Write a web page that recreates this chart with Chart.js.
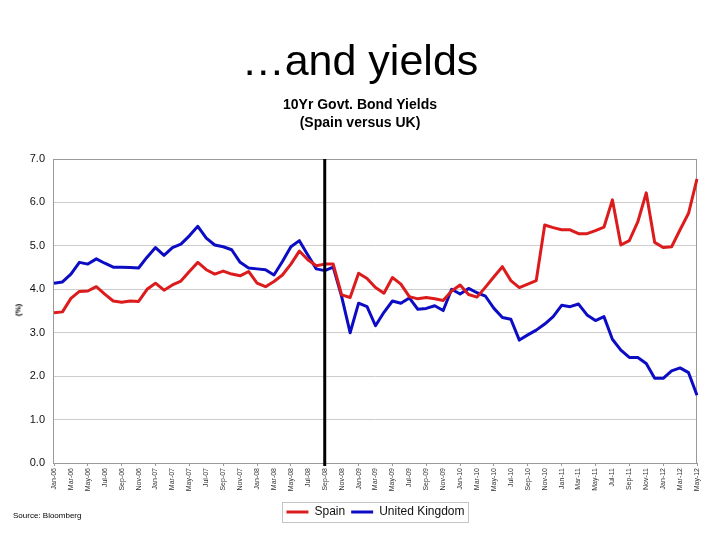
<!DOCTYPE html>
<html>
<head>
<meta charset="utf-8">
<script src="https://cdn.jsdelivr.net/npm/chart.js@4.4.1/dist/chart.umd.min.js"></script>
<style>
  body { margin: 0; background: #fff; }
  #wrap { position: relative; width: 720px; height: 540px; font-family: "Liberation Sans", Arial, sans-serif; }
  .txt { position: absolute; color: #000; white-space: nowrap; }
  #heading { top: 35px; left: 0; width: 720px; text-align: center; font-size: 43px; line-height: 50px; }
  #subhead { top: 95px; left: 0; width: 720px; text-align: center; font-size: 14px; font-weight: bold; line-height: 18px; }
  #ylab { left: 18px; top: 310px; font-size: 8px; font-weight: bold; transform: translate(-50%, -50%) rotate(-90deg); }
  #source { left: 13px; top: 511px; font-size: 8px; line-height: 10px; }
  canvas { position: absolute; left: 0; top: 0; }
</style>
</head>
<body>
<div id="wrap">
  <canvas id="bondChart" width="720" height="540"></canvas>
  <div class="txt" id="heading">…and yields</div>
  <div class="txt" id="subhead">10Yr Govt. Bond Yields<br>(Spain versus UK)</div>
  <div class="txt" id="ylab">(%)</div>
  <div class="txt" id="source">Source: Bloomberg</div>
</div>
<script>
// monthly, Jan-06 .. May-12
const monthNames = ['Jan', 'Feb', 'Mar', 'Apr', 'May', 'Jun', 'Jul', 'Aug', 'Sep', 'Oct', 'Nov', 'Dec'];
const years = ['06', '07', '08', '09', '10', '11', '12'];
const months = [];
years.forEach(y => monthNames.forEach(m => months.push(m + '-' + y)));
months.length = 77;

const spain = [
    3.46, 3.48, 3.79, 3.95, 3.96, 4.06, 3.89, 3.73, 3.70, 3.73, 3.72, 4.00,
    4.14, 3.98, 4.10, 4.19, 4.41, 4.62, 4.45, 4.35, 4.42, 4.35, 4.31, 4.41,
    4.14, 4.06, 4.18, 4.33, 4.58, 4.88, 4.68, 4.54, 4.58, 4.58, 3.87, 3.81,
    4.37, 4.25, 4.04, 3.91, 4.27, 4.12, 3.83, 3.78, 3.81, 3.78, 3.74, 3.96,
    4.10, 3.88, 3.82, 4.05, 4.29, 4.52, 4.20, 4.04, 4.12, 4.20, 5.48, 5.42,
    5.37, 5.37, 5.28, 5.28, 5.35, 5.43, 6.06, 5.02, 5.12, 5.55, 6.22, 5.08,
    4.96, 4.98, 5.37, 5.75, 6.54
];
const uk = [
    4.14, 4.17, 4.35, 4.62, 4.58, 4.70, 4.60, 4.51, 4.51, 4.50, 4.49, 4.74,
    4.96, 4.78, 4.96, 5.04, 5.23, 5.45, 5.18, 5.02, 4.98, 4.91, 4.62, 4.49,
    4.47, 4.45, 4.33, 4.64, 4.98, 5.12, 4.79, 4.47, 4.43, 4.51, 3.83, 3.00,
    3.68, 3.60, 3.16, 3.47, 3.73, 3.68, 3.80, 3.54, 3.56, 3.62, 3.51, 4.00,
    3.89, 4.02, 3.92, 3.84, 3.56, 3.35, 3.31, 2.83, 2.95, 3.06, 3.20, 3.37,
    3.63, 3.60, 3.66, 3.41, 3.28, 3.37, 2.85, 2.60, 2.43, 2.43, 2.29, 1.95,
    1.95, 2.12, 2.19, 2.08, 1.56
];
const eventMonth = 'Sep-08';

// plot frame, the black marker line and a box round the legend
const extras = {
    id: 'extras',
    beforeDatasetsDraw(chart) {
        const a = chart.chartArea, ctx = chart.ctx;
        ctx.save();
        ctx.strokeStyle = '#9a9a9a';
        ctx.lineWidth = 1;
        ctx.strokeRect(Math.round(a.left) - 0.5, Math.round(a.top) + 0.5,
            Math.round(a.right - a.left), Math.round(a.bottom - a.top));
        ctx.restore();
    },
    afterDatasetsDraw(chart) {
        const a = chart.chartArea, ctx = chart.ctx;
        const x = chart.scales.x.getPixelForValue(months.indexOf(eventMonth));
        ctx.save();
        ctx.strokeStyle = '#000';
        ctx.lineWidth = 3;
        ctx.beginPath();
        ctx.moveTo(x, a.top);
        ctx.lineTo(x, a.bottom + 3);
        ctx.stroke();
        ctx.restore();
    },
    afterDraw(chart) {
        const boxes = chart.legend.legendHitBoxes;
        if (!boxes || !boxes.length) return;
        const left = Math.min(...boxes.map(b => b.left)) - 4;
        const right = Math.max(...boxes.map(b => b.left + b.width)) + 4;
        const top = boxes[0].top - 4;
        const bottom = boxes[0].top + boxes[0].height + 4;
        const ctx = chart.ctx;
        ctx.save();
        ctx.strokeStyle = '#c4c4c4';
        ctx.lineWidth = 1;
        ctx.strokeRect(Math.round(left) + 0.5, Math.round(top) + 0.5, Math.round(right - left), Math.round(bottom - top));
        ctx.restore();
    }
};

const ctx = document.getElementById('bondChart').getContext('2d');
new Chart(ctx, {
    type: 'line',
    data: {
        labels: months,
        datasets: [
            {
                label: 'Spain',
                data: spain,
                borderColor: '#dc1c1c',
                backgroundColor: '#dc1c1c',
                borderWidth: 3,
                pointRadius: 0,
                tension: 0,
                borderJoinStyle: 'round'
            },
            {
                label: 'United Kingdom',
                data: uk,
                borderColor: '#0c0cc4',
                backgroundColor: '#0c0cc4',
                borderWidth: 3,
                pointRadius: 0,
                tension: 0,
                borderJoinStyle: 'round'
            }
        ]
    },
    options: {
        responsive: false,
        animation: false,
        layout: {
            padding: { top: 159, left: 8, right: 23, bottom: 12 }
        },
        plugins: {
            title: { display: false },
            tooltip: { enabled: false },
            legend: {
                position: 'bottom',
                fullSize: false,
                labels: {
                    usePointStyle: true,
                    pointStyle: 'line',
                    pointStyleWidth: 22,
                    boxHeight: 12,
                    padding: 6,
                    color: '#111',
                    font: { family: 'Liberation Sans', size: 12 }
                }
            }
        },
        scales: {
            x: {
                offset: false,
                border: { display: false },
                grid: {
                    drawOnChartArea: false,
                    drawTicks: true,
                    tickLength: 3,
                    color: c => (c.index % 2 === 0 ? '#9a9a9a' : 'rgba(0,0,0,0)')
                },
                ticks: {
                    autoSkip: false,
                    minRotation: 90,
                    maxRotation: 90,
                    padding: 2,
                    color: '#333',
                    font: { family: 'Liberation Sans', size: 7 },
                    callback: function (v, i) {
                        return i % 2 === 0 ? this.getLabelForValue(v) : null;
                    }
                },
                afterFit: s => { s.height = 37; }
            },
            y: {
                min: 0,
                max: 7,
                border: { display: false },
                grid: { color: '#cdcdcd', drawTicks: false },
                ticks: {
                    stepSize: 1,
                    padding: 9,
                    color: '#111',
                    font: { family: 'Liberation Sans', size: 11 },
                    callback: v => v.toFixed(1)
                },
                afterFit: s => { s.width = 46; }
            }
        }
    },
    plugins: [extras]
});
</script>
</body>
</html>
